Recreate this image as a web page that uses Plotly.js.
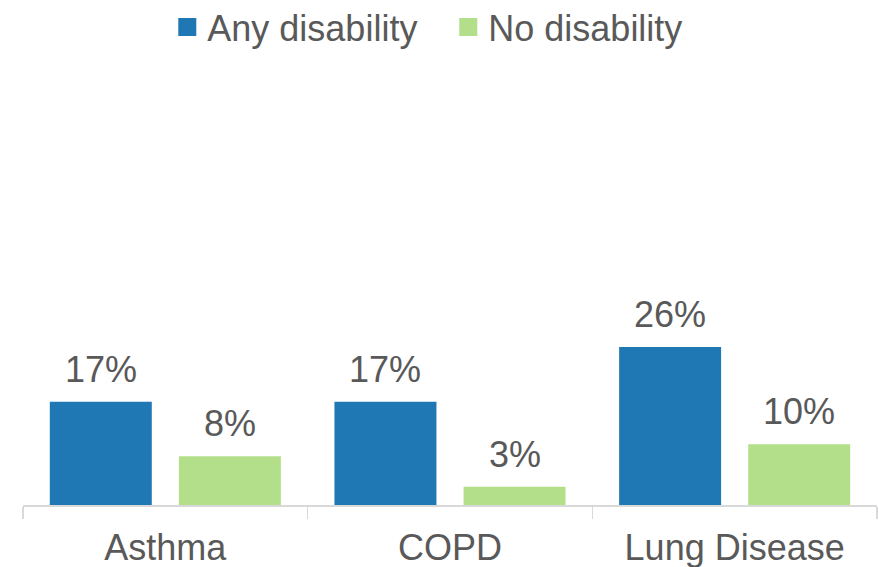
<!DOCTYPE html>
<html>
<head>
<meta charset="utf-8">
<script src="https://cdn.plot.ly/plotly-3.0.1.min.js"></script>
<style>html,body{margin:0;padding:0;background:#fff;}#chart{width:879px;height:567px;}</style>
</head>
<body>
<div id="chart"></div>
<script>
var categories = ["Asthma", "COPD", "Lung Disease"];
var anyDisability = [17, 17, 26];
var noDisability = [8, 3, 10];
var seriesNames = ["Any disability", "No disability"];

var FONT = "Liberation Sans, Arial, sans-serif";
var TXT = "#595959";
var BLUE = "#1f77b4";
var GREEN = "#b3df8a";
var FS = 36;

var BARGAP = 0.093, GROUPGAP = 0.21;
var plotW = 879 - 23 - 2;
var slot = plotW / categories.length * (1 - BARGAP) / 2;

var data = [
  {
    type: "bar", x: categories, y: anyDisability, name: seriesNames[0],
    marker: { color: BLUE }, showlegend: false, hoverinfo: "skip"
  },
  {
    type: "bar", x: categories, y: noDisability, name: seriesNames[1],
    marker: { color: GREEN }, showlegend: false, hoverinfo: "skip"
  },
  {
    type: "scatter", mode: "markers", x: [null], y: [null], name: seriesNames[0],
    marker: { symbol: "square", size: 16, color: BLUE, line: { color: BLUE, width: 2 } }
  },
  {
    type: "scatter", mode: "markers", x: [null], y: [null], name: seriesNames[1],
    marker: { symbol: "square", size: 16, color: GREEN, line: { color: GREEN, width: 2 } }
  }
];

var annotations = [];
[anyDisability, noDisability].forEach(function (series, si) {
  series.forEach(function (v, i) {
    annotations.push({
      x: categories[i], y: v, xref: "x", yref: "y", text: v + "%",
      showarrow: false, yanchor: "bottom", xanchor: "center",
      xshift: (si === 0 ? -1 : 1) * slot / 2, yshift: 10,
      font: { family: FONT, size: FS, color: TXT }
    });
  });
});

var layout = {
  width: 879, height: 567,
  margin: { l: 23, r: 2, t: 80, b: 62, autoexpand: false },
  paper_bgcolor: "#fff", plot_bgcolor: "#fff",
  font: { family: FONT, color: TXT, size: FS },
  barmode: "group", bargap: BARGAP, bargroupgap: GROUPGAP,
  showlegend: true,
  annotations: annotations,
  legend: {
    orientation: "h", x: 0.498, xanchor: "center", y: 1.1247, yanchor: "middle",
    font: { family: FONT, size: FS, color: TXT }, traceorder: "normal",
    entrywidth: 236, entrywidthmode: "pixels"
  },
  xaxis: {
    type: "category", showline: true, linecolor: "#d9d9d9", linewidth: 1.5,
    ticks: "outside", tickson: "boundaries", ticklen: 12, tickcolor: "#d9d9d9", tickwidth: 1.5,
    ticklabelstandoff: 10,
    tickfont: { family: FONT, size: FS, color: TXT }, showgrid: false, zeroline: false,
    fixedrange: true
  },
  yaxis: {
    range: [0, 69.9], visible: false, showgrid: false, zeroline: false, fixedrange: true
  }
};

Plotly.newPlot("chart", data, layout, { displayModeBar: false, staticPlot: true });
</script>
</body>
</html>
